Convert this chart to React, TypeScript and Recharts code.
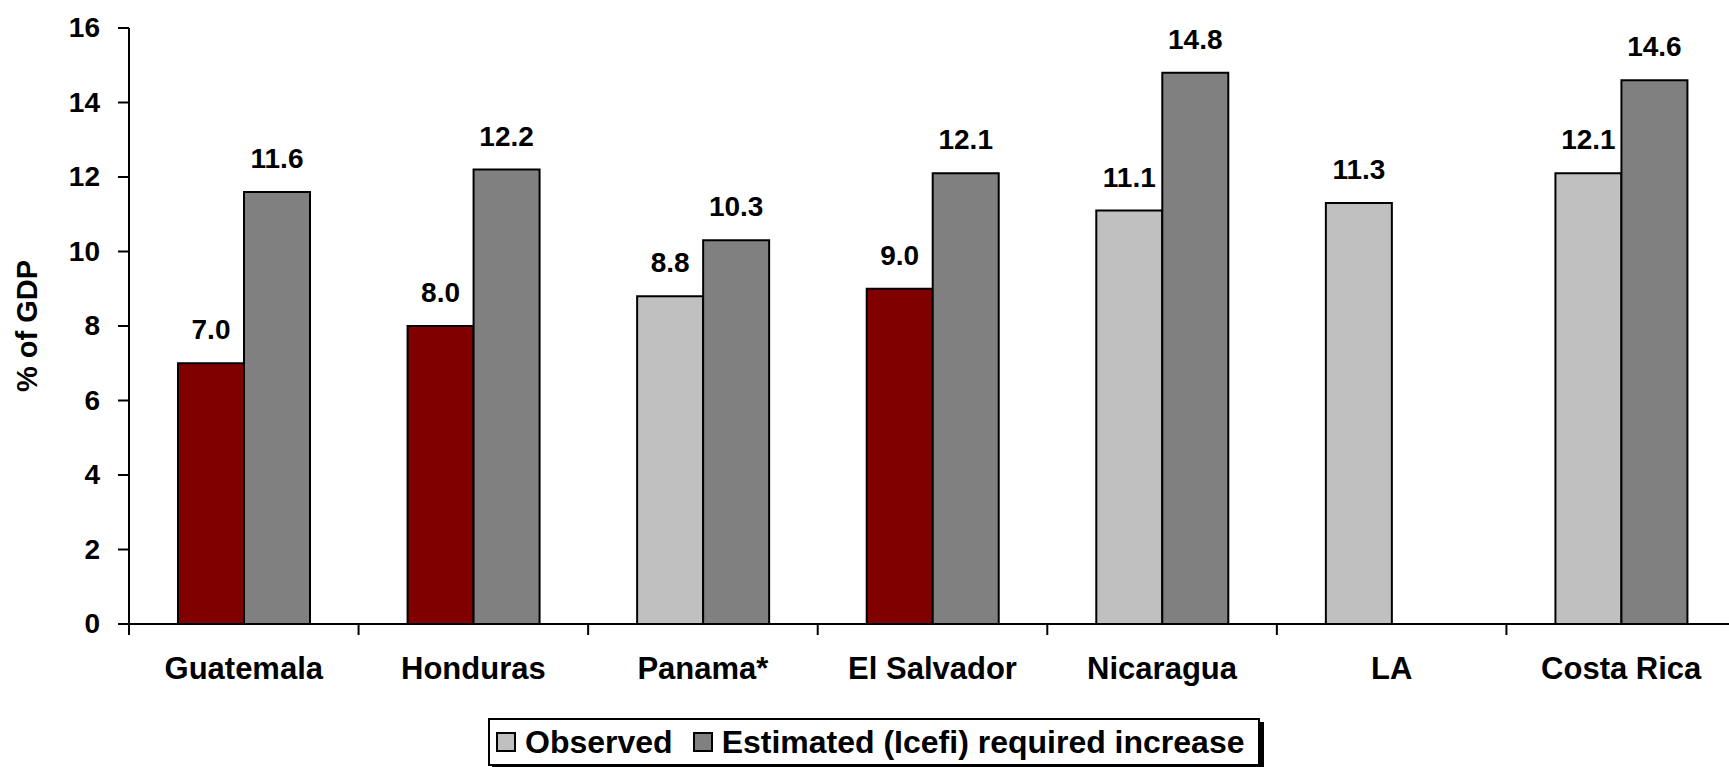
import React from 'react';
import { BarChart, Bar, XAxis, YAxis, Legend, LabelList, Cell } from 'recharts';

// datos del gráfico (% del PIB)
const categories = ['Guatemala', 'Honduras', 'Panama*', 'El Salvador', 'Nicaragua', 'LA', 'Costa Rica'];
const observed = [7.0, 8.0, 8.8, 9.0, 11.1, 11.3, 12.1];
const estimated: (number | null)[] = [11.6, 12.2, 10.3, 12.1, 14.8, null, 14.6];
const highlighted = [true, true, false, true, false, false, false];
const yTicks = [0, 2, 4, 6, 8, 10, 12, 14, 16];
const legendOrder = ['observed', 'estimated'];

const data = categories.map((name, i) => ({
  name,
  observed: observed[i],
  estimated: estimated[i],
}));

const CHART_W = 1760;
const CHART_H = 767;
const MARGIN = { top: 28, right: 24, bottom: 1, left: 0 };
const Y_AXIS_W = 129;
const BAND = (CHART_W - MARGIN.left - MARGIN.right - Y_AXIS_W) / categories.length;

const FONT = "'Liberation Sans', Arial, sans-serif";

const fmt = (v: any) => (v == null ? '' : Number(v).toFixed(1));

const CategoryTick = (props: any) => {
  const { x, y, payload } = props;
  const left = x - BAND / 2;
  return (
    <g>
      <line x1={left} x2={left} y1={y} y2={y + 11} stroke="#000" strokeWidth={2} />
      <text x={x} y={y + 55} textAnchor="middle" fontFamily={FONT} fontWeight="bold" fontSize={31} fill="#000">
        {payload.value}
      </text>
    </g>
  );
};

const ValueTick = (props: any) => {
  const { x, y, payload } = props;
  return (
    <text x={x} y={y + 9} textAnchor="end" fontFamily={FONT} fontWeight="bold" fontSize={28} fill="#000">
      {payload.value}
    </text>
  );
};

const ValueLabel = (props: any) => {
  const { x, y, width, value } = props;
  if (value == null) return null;
  return (
    <text x={x + width / 2} y={y - 24} textAnchor="middle" fontFamily={FONT} fontWeight="bold" fontSize={28} fill="#000">
      {fmt(value)}
    </text>
  );
};

const renderLegend = (props: any) => {
  const payload = [...(props.payload || [])].sort(
    (a: any, b: any) => legendOrder.indexOf(a.dataKey) - legendOrder.indexOf(b.dataKey)
  );
  return (
    <div
      style={{
        display: 'inline-flex',
        alignItems: 'center',
        height: 48,
        boxSizing: 'border-box',
        border: '2px solid #000',
        boxShadow: '4px 4px 0 #000',
        background: '#fff',
        padding: '0 14px 0 6px',
        fontFamily: FONT,
        fontWeight: 'bold',
        fontSize: 32,
        color: '#000',
        whiteSpace: 'nowrap',
      }}
    >
      {payload.map((entry: any, i: number) => (
        <span key={i} style={{ display: 'inline-flex', alignItems: 'center', marginLeft: i === 0 ? 0 : 20 }}>
          <span
            style={{
              display: 'inline-block',
              width: 16,
              height: 16,
              border: '2px solid #000',
              background: entry.color,
              marginRight: 9,
            }}
          />
          {entry.value}
        </span>
      ))}
    </div>
  );
};

export default function App() {
  return (
    <div style={{ position: 'absolute', top: 0, left: 0, width: 1729, height: 767, overflow: 'hidden', background: '#fff' }}>
      <BarChart width={CHART_W} height={CHART_H} data={data} margin={MARGIN} barSize={66} barGap={0}>
        <XAxis
          dataKey="name"
          height={94}
          interval={0}
          tickLine={false}
          tickSize={0}
          tickMargin={0}
          axisLine={{ stroke: '#000', strokeWidth: 2 }}
          tick={(p: any) => <CategoryTick {...p} />}
        />
        <YAxis
          width={Y_AXIS_W}
          domain={[0, 16]}
          ticks={yTicks}
          interval={0}
          tickSize={11}
          tickMargin={18}
          axisLine={{ stroke: '#000', strokeWidth: 2 }}
          tickLine={{ stroke: '#000', strokeWidth: 2 }}
          tick={(p: any) => <ValueTick {...p} />}
          label={{
            content: () => (
              <text
                x={27}
                y={326}
                transform="rotate(-90 27 326)"
                textAnchor="middle"
                dominantBaseline="central"
                fontFamily={FONT}
                fontWeight="bold"
                fontSize={29}
                fill="#000"
              >
                % of GDP
              </text>
            ),
          }}
        />
        <Legend
          verticalAlign="bottom"
          align="left"
          content={renderLegend}
          wrapperStyle={{ left: 488, width: 820 }}
        />
        <Bar dataKey="observed" name="Observed" fill="#C0C0C0" stroke="#000" strokeWidth={2} isAnimationActive={false}>
          {data.map((_, i) => (
            <Cell key={i} fill={highlighted[i] ? '#800000' : '#C0C0C0'} />
          ))}
          <LabelList dataKey="observed" content={(p: any) => <ValueLabel {...p} />} />
        </Bar>
        <Bar dataKey="estimated" name="Estimated (Icefi) required increase" fill="#808080" stroke="#000" strokeWidth={2} isAnimationActive={false}>
          <LabelList dataKey="estimated" content={(p: any) => <ValueLabel {...p} />} />
        </Bar>
      </BarChart>
    </div>
  );
}
